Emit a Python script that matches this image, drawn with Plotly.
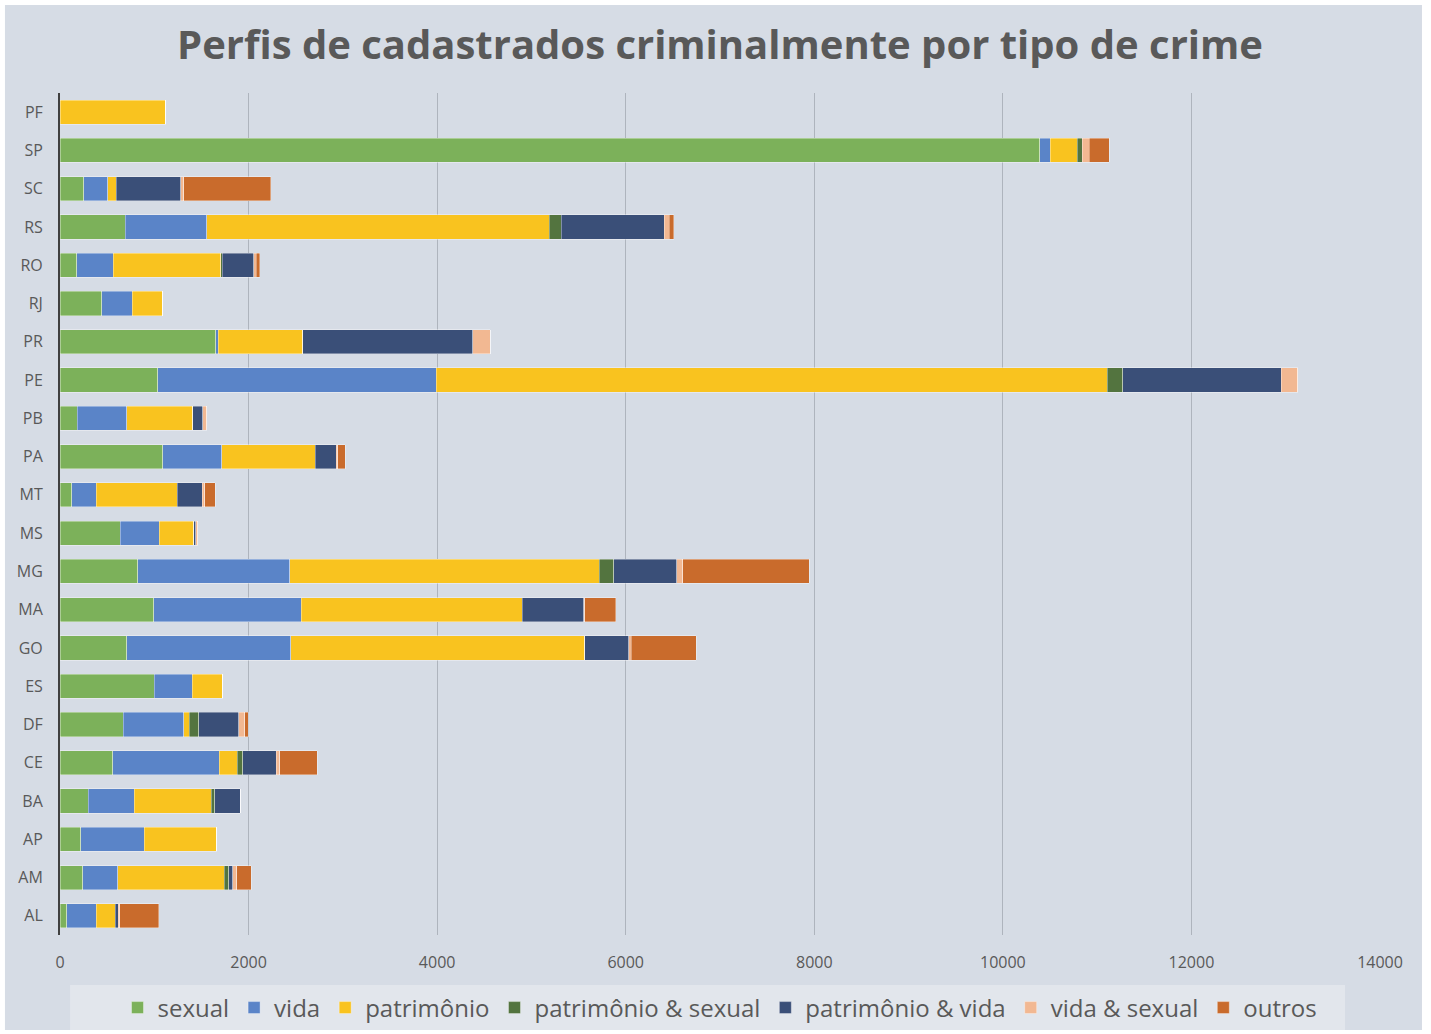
import plotly.graph_objects as go

states = ["PF", "SP", "SC", "RS", "RO", "RJ", "PR", "PE", "PB", "PA", "MT", "MS",
          "MG", "MA", "GO", "ES", "DF", "CE", "BA", "AP", "AM", "AL"]

sexual = [0, 10390, 253, 691, 180, 443, 1650, 1036, 185, 1090, 122, 637,
          827, 993, 710, 998, 672, 560, 297, 219, 243, 73]
vida = [0, 113, 253, 866, 384, 321, 30, 2954, 521, 628, 263, 418,
        1611, 1567, 1737, 404, 642, 1129, 491, 672, 370, 311]
patrimonio = [1124, 287, 88, 3630, 1139, 326, 895, 7117, 701, 988, 856, 365,
              3280, 2345, 3119, 326, 58, 190, 817, 774, 1129, 204]
patrimonio_sexual = [0, 50, 0, 127, 20, 0, 0, 166, 0, 0, 0, 0,
                     156, 0, 0, 0, 97, 58, 34, 0, 49, 0]
patrimonio_vida = [0, 0, 686, 1095, 331, 0, 1805, 1682, 107, 224, 268, 20,
                   667, 652, 467, 0, 428, 355, 272, 0, 39, 29]
vida_sexual = [0, 77, 34, 54, 29, 0, 185, 171, 44, 15, 24, 20,
               63, 10, 24, 0, 63, 39, 0, 0, 44, 15]
outros = [0, 209, 920, 49, 34, 0, 0, 0, 0, 78, 112, 0,
          1341, 326, 691, 0, 39, 399, 0, 0, 156, 414]

series_names = ["sexual", "vida", "patrimônio", "patrimônio & sexual",
                "patrimônio & vida", "vida & sexual", "outros"]
series_values = [sexual, vida, patrimonio, patrimonio_sexual,
                 patrimonio_vida, vida_sexual, outros]
series_colors = ["#7CB15A", "#5A84C8", "#F9C31F", "#53743F",
                 "#3A4F78", "#F2B892", "#C96B2C"]

fig = go.Figure()
for name, vals, col in zip(series_names, series_values, series_colors):
    fig.add_trace(go.Bar(
        y=states, x=vals, name=name, orientation="h",
        marker=dict(color=col, line=dict(width=0.8, color="rgba(255,255,255,0.45)")),
    ))

panel = "#D6DCE5"
fig.update_layout(
    width=1431, height=1034,
    barmode="stack", bargap=0.37,
    paper_bgcolor="white", plot_bgcolor=panel,
    margin=dict(l=60, r=51, t=93, b=99, autoexpand=False),
    font=dict(family="Open Sans, sans-serif", color="#595959"),
    title=dict(text="<b>Perfis de cadastrados criminalmente por tipo de crime</b>",
               x=0.5, xref="paper", xanchor="center", y=1 - 45 / 1034, yanchor="middle",
               font=dict(size=40, color="#595959", family="Open Sans, sans-serif")),
    xaxis=dict(range=[0, 14000], dtick=2000, tick0=0, tickformat="d", showgrid=True,
               gridcolor="#AEB4BD", gridwidth=1, zeroline=False,
               tickfont=dict(size=16, color="#595959"), ticklabelstandoff=16,
               showline=False, automargin=False),
    yaxis=dict(autorange="reversed", showgrid=False, showline=True,
               linecolor="#404040", linewidth=2, automargin=False,
               tickfont=dict(size=16, color="#595959"), ticklabelstandoff=12),
    legend=dict(orientation="h", x=0.5, xanchor="center", xref="paper",
                y=1 - 1008 / 1034, yanchor="middle", yref="container",
                font=dict(size=24, color="#595959"), bgcolor="rgba(0,0,0,0)",
                traceorder="normal", itemwidth=30),
    shapes=[
        dict(type="rect", xref="paper", yref="paper", layer="below",
             x0=-0.0417, x1=1.0318, y0=-0.1128, y1=1.1045,
             fillcolor=panel, line=dict(width=0)),
        dict(type="rect", xref="paper", yref="paper", layer="below",
             x0=0.0076, x1=0.9735, y0=-0.1128, y1=-0.0594,
             fillcolor="#E2E6EC", line=dict(width=0)),
    ],
)

fig.write_html("out.html")
